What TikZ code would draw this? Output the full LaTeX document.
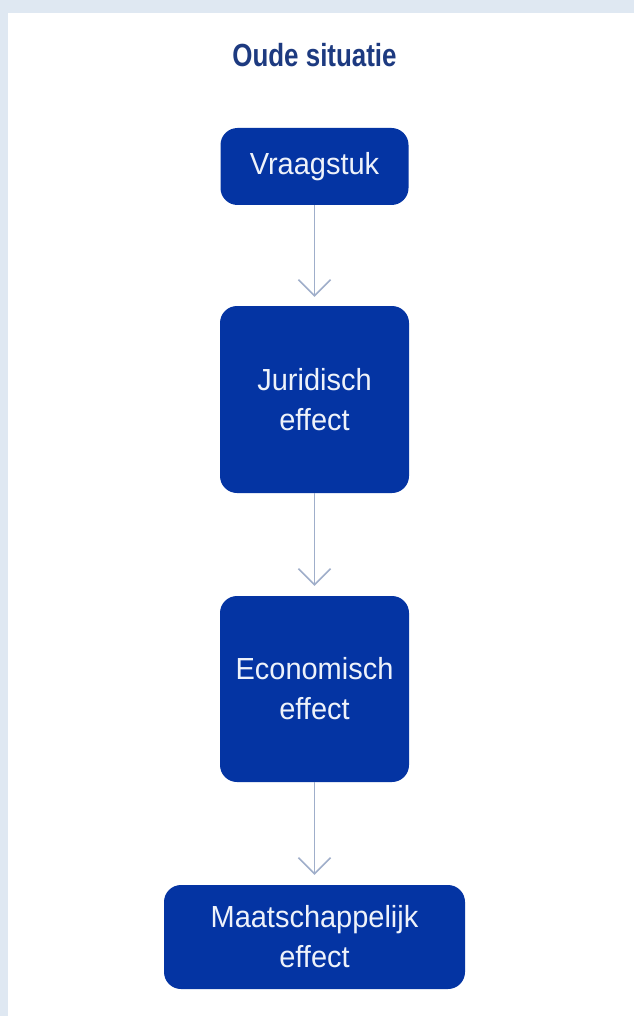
\documentclass[tikz,border=0pt]{standalone}
\usepackage{fontspec}
\setmainfont{Liberation Sans}
\newfontfamily\titlefont{Liberation Sans}[FakeStretch=0.81]
\newfontfamily\boxfont{Liberation Sans}[FakeStretch=0.95]
\usetikzlibrary{arrows.meta}
\definecolor{bgblue}{HTML}{DFE8F2}
\definecolor{boxblue}{HTML}{0434A3}
\definecolor{titleblue}{HTML}{1D3A80}
\definecolor{arrowgray}{HTML}{9FAECA}
\definecolor{boxtext}{HTML}{EEF2FA}
\begin{document}
\begin{tikzpicture}[x=1pt,y=-1pt,
  stepbox/.style={draw=none, fill=boxblue, rounded corners=17pt, text=boxtext,
    font=\boxfont\fontsize{30.5}{40}\selectfont, align=center, inner sep=0pt},
  flow/.style={draw=arrowgray, line width=1.6pt,
    -{Straight Barb[length=16pt, width=32pt, line width=1.6pt]}}]
\useasboundingbox (0,0) rectangle (634,1016);
\fill[bgblue] (0,0) rectangle (634,1016);
\fill[white] (8,13) rectangle (634,1016);
\node[text=titleblue, font=\titlefont\bfseries\fontsize{32}{38}\selectfont, anchor=base] (title) at (314.5,67) {Oude situatie};
\node[stepbox, minimum width=188pt, minimum height=77pt] (v) at (314.5,166.5) {Vraagstuk};
\node[stepbox, minimum width=189pt, minimum height=187pt] (j) at (314.5,399.5) {Juridisch\\effect};
\node[stepbox, minimum width=189pt, minimum height=186pt] (e) at (314.5,689) {Economisch\\effect};
\node[stepbox, minimum width=301pt, minimum height=104pt] (m) at (314.5,937) {Maatschappelijk\\effect};
\draw[flow] (v.south) -- ([yshift=9pt]j.north);
\draw[flow] (j.south) -- ([yshift=10pt]e.north);
\draw[flow] (e.south) -- ([yshift=10pt]m.north);
\end{tikzpicture}
\end{document}
